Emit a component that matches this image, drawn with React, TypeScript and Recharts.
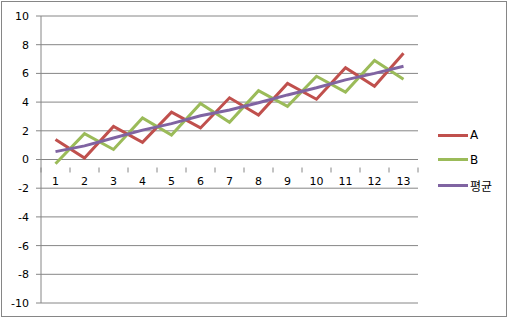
import { CartesianGrid, Line, LineChart, ReferenceLine, XAxis, YAxis } from "recharts";

const categories = ["1", "2", "3", "4", "5", "6", "7", "8", "9", "10", "11", "12", "13"];
const seriesA = [1.4, 0.1, 2.3, 1.2, 3.3, 2.2, 4.3, 3.1, 5.3, 4.2, 6.4, 5.1, 7.4];
const seriesB = [-0.3, 1.8, 0.7, 2.9, 1.7, 3.9, 2.6, 4.8, 3.7, 5.8, 4.7, 6.9, 5.6];
const seriesAvg = [0.55, 0.95, 1.5, 2.05, 2.5, 3.05, 3.45, 3.95, 4.5, 5.0, 5.55, 6.0, 6.5];
const yTicks = [-10, -8, -6, -4, -2, 0, 2, 4, 6, 8, 10];

const W = 508;
const H = 318;
const X_H = 1;
const M = { top: 16, right: 90, bottom: 14, left: 0 };
const Y_W = 41;
const PLOT_W = W - M.left - M.right - Y_W;
const PLOT_H = H - M.top - M.bottom - X_H;
const BAND = PLOT_W / categories.length;
const FONT = "'DejaVu Sans', 'Noto Sans CJK KR', sans-serif";
const GRID = "#868686";

const data = categories.map((c, i) => ({ cat: c, A: seriesA[i], B: seriesB[i], avg: seriesAvg[i] }));

const legendItems = [
  { name: "A", color: "#C0504D" },
  { name: "B", color: "#9BBB59" },
  { name: "평균", color: "#8064A2" },
];

function XTick(props: any) {
  const { x, y, payload, index } = props;
  const zeroY = y - PLOT_H / 2;
  const last = index === categories.length - 1;
  return (
    <g>
      <line x1={x - BAND / 2} x2={x - BAND / 2} y1={zeroY} y2={zeroY + 5} stroke={GRID} />
      {last && <line x1={x + BAND / 2} x2={x + BAND / 2} y1={zeroY} y2={zeroY + 5} stroke={GRID} />}
      <text x={x} y={zeroY + 17} textAnchor="middle" fontSize={11} fill="#000" fontFamily={FONT}>
        {payload.value}
      </text>
    </g>
  );
}

export default function App() {
  return (
    <div style={{ position: "absolute", left: 0, top: 0, width: W, height: H, background: "#fff" }}>
      <div style={{ position: "absolute", left: 1, top: 1, width: W - 4, height: H - 4, border: "1px solid #868686" }} />
      <LineChart width={W} height={H} data={data} margin={M}>
        <CartesianGrid horizontal vertical={false} stroke={GRID} />
        <XAxis
          dataKey="cat"
          height={X_H}
          axisLine={false}
          tickLine={false}
          tick={(p: any) => <XTick {...p} />}
          interval={0}
          padding={{ left: BAND / 2, right: BAND / 2 }}
        />
        <YAxis
          width={Y_W}
          domain={[-10, 10]}
          ticks={yTicks}
          interval={0}
          stroke={GRID}
          tickSize={5}
          tickMargin={7}
          tick={{ fill: "#000", fontSize: 11, fontFamily: FONT }}
        />
        <ReferenceLine y={0} stroke={GRID} />
        <Line dataKey="A" stroke="#C0504D" strokeWidth={3} dot={false} isAnimationActive={false} />
        <Line dataKey="B" stroke="#9BBB59" strokeWidth={3} dot={false} isAnimationActive={false} />
        <Line dataKey="avg" name="평균" stroke="#8064A2" strokeWidth={3} dot={false} isAnimationActive={false} />
      </LineChart>
      {legendItems.map((it, i) => (
        <div
          key={it.name}
          style={{
            position: "absolute",
            left: 438,
            top: 128 + i * 24.5,
            display: "flex",
            alignItems: "center",
            fontFamily: FONT,
            fontSize: 12,
          }}
        >
          <div style={{ width: 30, height: 3, background: it.color, marginRight: 2 }} />
          <span>{it.name}</span>
        </div>
      ))}
    </div>
  );
}
